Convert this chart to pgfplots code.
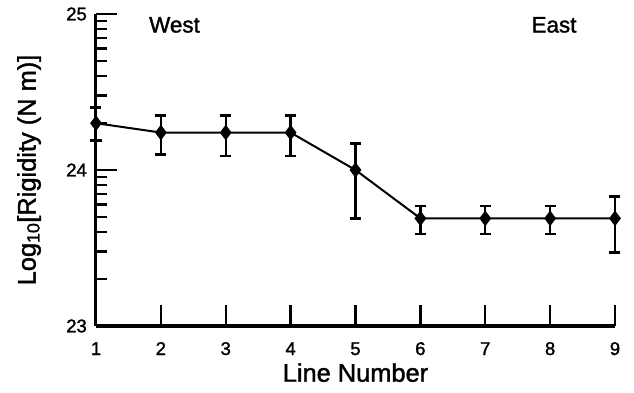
\documentclass[border=0pt]{standalone}
\usepackage{fontspec}
\setmainfont{Liberation Sans}[FakeBold=1.5]
\usepackage{pgfplots}
\pgfplotsset{compat=1.18}
\begin{document}
\begin{tikzpicture}
\path[use as bounding box] (-96bp,-67bp) rectangle (538bp,326bp);
\begin{axis}[
 scale only axis, width=519bp, height=312bp,
 xmin=1, xmax=9, ymin=23, ymax=25,
 axis lines*=left,
 axis line style={line width=3bp, -},
 xtick={1,...,9}, ytick={23,24,25},
 minor ytick={23.301,23.477,23.602,23.699,23.778,23.845,23.903,23.954,24.301,24.477,24.602,24.699,24.778,24.845,24.903,24.954},
 tick align=inside,
 major tick length=21bp, minor tick length=11bp,
 every tick/.style={line width=2.4bp, black},
 /pgf/number format/assume math mode=true,
 ticklabel style={font=\fontsize{18.5}{20}\selectfont},
 xticklabel style={anchor=base, yshift=-29bp},
 yticklabel style={anchor=east, inner sep=0pt, xshift=-9bp},
 xlabel={Line Number}, ylabel={Log\textsubscript{10}[Rigidity (N m)]},
 label style={font=\fontsize{25.5}{28}\selectfont},
 xlabel style={at={(axis description cs:0.5,0)}, anchor=base, yshift=-55.7bp},
 ylabel style={at={(axis description cs:-0.129,0.5)}, anchor=center},
 clip=false,
]
\addplot[black, line width=2bp, mark=diamond*, mark size=7bp, mark options={fill=black, line width=1bp},
  error bars/.cd, y dir=both, y explicit,
  error bar style={line width=2.4bp, black},
  error mark options={rotate=90, mark size=5.5bp, line width=2.4bp, black}]
 coordinates {
 (1,24.30) += (0,0.10) -= (0,0.11)
 (2,24.24) += (0,0.11) -= (0,0.14)
 (3,24.24) += (0,0.11) -= (0,0.15)
 (4,24.24) += (0,0.11) -= (0,0.15)
 (5,24.00) += (0,0.17) -= (0,0.31)
 (6,23.69) += (0,0.08) -= (0,0.10)
 (7,23.69) += (0,0.08) -= (0,0.10)
 (8,23.69) += (0,0.08) -= (0,0.10)
 (9,23.69) += (0,0.14) -= (0,0.22)
 };
\node[font=\fontsize{22.5}{25}\selectfont] at (axis cs:2.21,24.93) {West};
\node[font=\fontsize{22.5}{25}\selectfont] at (axis cs:8.06,24.93) {East};
\end{axis}
\end{tikzpicture}
\end{document}
